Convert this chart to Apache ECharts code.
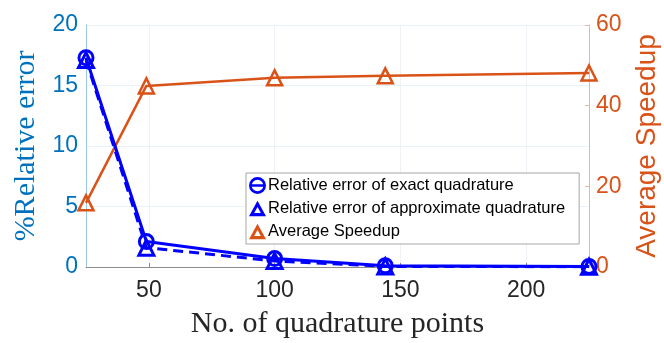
<!DOCTYPE html>
<html>
<head>
<meta charset="utf-8">
<script src="https://cdn.jsdelivr.net/npm/echarts@6/dist/echarts.min.js"></script>
<style>
  html, body { margin: 0; padding: 0; background: #fff; }
  #chart { width: 664px; height: 343px; }
</style>
</head>
<body>
<div id="chart"></div>
<script>
// quadrature points (x) and the three series
const quadPoints = [25, 49, 100, 144, 225];
const errExact = [17.3, 2.1, 0.7, 0.1, 0.05];
const errApprox = [17.1, 1.6, 0.5, 0.05, 0.02];
const speedup = [15.9, 44.9, 46.9, 47.4, 48.1];
const xTicks = [50, 100, 150, 200];

const pairs = (ys) => quadPoints.map((x, i) => [x, ys[i]]);

const BLUE = '#0000ff';
const ORANGE = '#d95319';
const AXBLUE = '#0072bd';
const CLEAR = 'rgba(255,255,255,0)';
const SANS = 'Liberation Sans, Arial, sans-serif';
const SERIF = 'Liberation Serif, Times New Roman, serif';

const iconExact = 'path://M12,1.5 A10.5,10.5 0 1,1 12,22.5 A10.5,10.5 0 1,1 12,1.5 Z M12,4.8 A7.2,7.2 0 1,0 12,19.2 A7.2,7.2 0 1,0 12,4.8 Z M4.5,10.6 L19.5,10.6 L19.5,13.4 L4.5,13.4 Z';
const iconTri = 'path://M12,1 L23.5,22 L0.5,22 Z M12,9.5 L7.5,17.5 L16.5,17.5 Z';

const chart = echarts.init(document.getElementById('chart'));

const option = {
    animation: false,
    grid: { left: 86, right: 75, top: 25, bottom: 76, outerBoundsMode: 'none', containLabel: false },
    legend: {
        orient: 'vertical',
        left: 246,
        top: 173,
        padding: [4, 14, 4, 3],
        itemGap: 6,
        itemWidth: 17,
        itemHeight: 17,
        backgroundColor: '#fff',
        borderColor: '#a6a6a6',
        borderWidth: 1,
        textStyle: { fontFamily: SANS, fontSize: 16.5, color: '#000', padding: [0, 0, 0, -3] },
        data: [
            { name: 'Relative error of exact quadrature', icon: iconExact, itemStyle: { color: BLUE, borderWidth: 0 } },
            { name: 'Relative error of approximate quadrature', icon: iconTri, itemStyle: { color: BLUE, borderWidth: 0 } },
            { name: 'Average Speedup', icon: iconTri, itemStyle: { color: ORANGE, borderWidth: 0 } }
        ]
    },
    xAxis: {
        type: 'value',
        min: 25,
        max: 225,
        name: 'No. of quadrature points',
        nameLocation: 'middle',
        nameGap: 42,
        nameTextStyle: { fontFamily: SERIF, fontSize: 30, color: '#262626' },
        axisLine: { lineStyle: { color: '#8c8c8c', width: 1 } },
        axisTick: { inside: true, length: 4, customValues: xTicks, lineStyle: { color: '#8c8c8c' } },
        axisLabel: { customValues: xTicks, fontFamily: SANS, fontSize: 23, color: '#262626', margin: 12 },
        splitLine: { show: true, lineStyle: { color: '#eef2f6', width: 1 } }
    },
    yAxis: [
        {
            type: 'value',
            min: 0,
            max: 20,
            interval: 5,
            name: '%Relative error',
            nameLocation: 'middle',
            nameGap: 40,
            nameTextStyle: { fontFamily: SERIF, fontSize: 30, color: AXBLUE },
            axisLine: { show: true, lineStyle: { color: '#99c7e5', width: 1 } },
            axisTick: { show: false },
            axisLabel: { fontFamily: SANS, fontSize: 23, color: AXBLUE, margin: 8 },
            splitLine: { show: true, lineStyle: { color: '#eaf2f9', width: 1 } }
        },
        {
            type: 'value',
            min: 0,
            max: 60,
            interval: 20,
            name: 'Average Speedup',
            nameLocation: 'middle',
            nameGap: 44,
            nameRotate: 90,
            nameTextStyle: { fontFamily: SANS, fontSize: 28, color: ORANGE, verticalAlign: 'top' },
            axisLine: { show: true, lineStyle: { color: '#f0b49a', width: 1 } },
            axisTick: { show: true, inside: true, length: 4, lineStyle: { color: '#f0b49a' } },
            axisLabel: { fontFamily: SANS, fontSize: 23, color: ORANGE, margin: 7 },
            splitLine: { show: false }
        }
    ],
    series: [
        {
            name: 'Relative error of approximate quadrature',
            type: 'line',
            yAxisIndex: 0,
            data: pairs(errApprox),
            symbol: 'triangle',
            symbolSize: 15,
            lineStyle: { color: BLUE, width: 3, type: [10, 6] },
            itemStyle: { color: CLEAR, borderColor: BLUE, borderWidth: 3 },
            z: 3
        },
        {
            name: 'Relative error of exact quadrature',
            type: 'line',
            yAxisIndex: 0,
            data: pairs(errExact),
            symbol: 'circle',
            symbolSize: 14,
            lineStyle: { color: BLUE, width: 3 },
            itemStyle: { color: CLEAR, borderColor: BLUE, borderWidth: 3 },
            z: 4
        },
        {
            name: 'Average Speedup',
            type: 'line',
            yAxisIndex: 1,
            data: pairs(speedup),
            symbol: 'triangle',
            symbolSize: 15,
            lineStyle: { color: ORANGE, width: 2.5 },
            itemStyle: { color: CLEAR, borderColor: ORANGE, borderWidth: 2.5 },
            z: 2
        }
    ]
};

chart.setOption(option);
window.addEventListener('resize', () => {
    chart.resize();
});
</script>
</body>
</html>
